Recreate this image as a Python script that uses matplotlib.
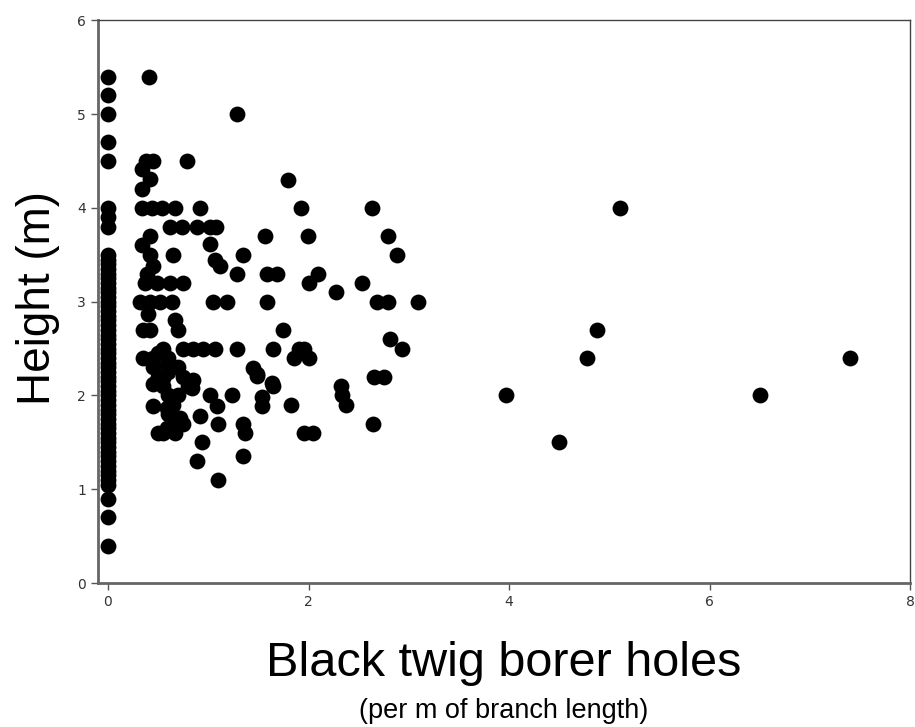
import matplotlib
matplotlib.use("Agg")
import matplotlib.pyplot as plt

# column at x = 0
zero_y = [0.4, 0.7, 0.9, 1.05, 1.1, 1.15, 1.2, 1.25, 1.3, 1.35, 1.4, 1.45, 1.5,
          1.55, 1.6, 1.65, 1.7, 1.75, 1.8, 1.85, 1.9, 1.95, 2.0, 2.05, 2.1, 2.15,
          2.2, 2.25, 2.3, 2.35, 2.4, 2.45, 2.5, 2.55, 2.6, 2.65, 2.7, 2.75, 2.8,
          2.85, 2.9, 2.95, 3.0, 3.05, 3.1, 3.15, 3.2, 3.25, 3.3, 3.35, 3.4, 3.45,
          3.5, 3.8, 3.9, 4.0, 4.5, 4.7, 5.0, 5.2, 5.4]

# the rest of the trees
holes = [0.41, 1.29, 0.38, 0.45, 0.34, 0.42, 0.34, 0.79,
         0.34, 0.44, 0.54, 0.67, 0.92, 0.62, 0.74, 0.89, 1.02, 1.08,
         1.80, 1.57, 0.42, 0.34, 0.65, 1.02, 1.07, 1.12, 1.35, 1.29, 1.59, 1.69,
         0.42, 0.45, 0.39, 0.37, 0.49, 0.62, 0.75,
         0.32, 0.42, 0.52, 0.64, 1.05, 1.19, 1.59, 0.40, 0.35, 0.42, 0.67, 0.70,
         1.75, 0.55, 0.75, 0.85, 0.95, 1.07, 1.29, 1.65, 0.35, 0.45, 0.59,
         1.45, 1.49, 1.64,
         0.45, 0.55, 0.85, 0.84, 0.45, 0.59, 0.72, 0.59, 0.55, 0.67, 1.02, 1.09,
         1.24, 0.92, 1.10, 1.35, 1.37, 0.94, 0.89, 1.35, 1.10, 1.49, 1.65, 1.54,
         1.54,
         0.45, 0.50, 0.55, 0.60, 0.65, 0.70, 0.75, 0.70, 0.60, 0.75, 0.65, 0.60,
         0.50, 0.80, 0.60, 0.50,
         1.92, 2.63, 1.99, 2.79, 2.88, 2.09, 2.00, 2.27, 2.53, 2.68, 2.79, 3.09,
         1.95, 2.00, 2.81, 2.93, 2.65, 2.75, 2.32, 2.33, 2.37, 2.64, 1.95, 2.04,
         1.85, 1.90, 1.82,
         3.97, 4.50, 4.78, 4.88, 5.10, 6.50, 7.40]
height = [5.4, 5.0, 4.5, 4.5, 4.42, 4.31, 4.2, 4.5,
          4.0, 4.0, 4.0, 4.0, 4.0, 3.8, 3.8, 3.8, 3.8, 3.8,
          4.3, 3.7, 3.7, 3.6, 3.5, 3.62, 3.44, 3.38, 3.5, 3.3, 3.3, 3.3,
          3.5, 3.38, 3.3, 3.2, 3.2, 3.2, 3.2,
          3.0, 3.0, 3.0, 3.0, 3.0, 3.0, 3.0, 2.87, 2.7, 2.7, 2.8, 2.7,
          2.7, 2.5, 2.5, 2.5, 2.5, 2.5, 2.5, 2.5, 2.4, 2.4, 2.34,
          2.29, 2.21, 2.13,
          2.12, 2.19, 2.16, 2.08, 1.89, 1.87, 1.76, 1.65, 1.6, 1.6, 2.0, 1.89,
          2.0, 1.78, 1.7, 1.7, 1.6, 1.5, 1.3, 1.35, 1.1, 2.23, 2.1, 1.98,
          1.89,
          2.3, 2.2, 2.1, 2.0, 1.9, 2.0, 2.2, 2.3, 2.4, 1.7, 1.7, 1.8,
          1.6, 2.1, 2.25, 2.45,
          4.0, 4.0, 3.7, 3.7, 3.5, 3.3, 3.2, 3.1, 3.2, 3.0, 3.0, 3.0,
          2.5, 2.4, 2.6, 2.5, 2.2, 2.2, 2.1, 2.0, 1.9, 1.7, 1.6, 1.6,
          2.4, 2.5, 1.9,
          2.0, 1.5, 2.4, 2.7, 4.0, 2.0, 2.4]

fig = plt.figure(figsize=(9.15, 7.27), dpi=100)
ax = fig.add_axes([0.107, 0.198, 0.888, 0.774])

ax.scatter([0] * len(zero_y), zero_y, s=130, c="black", linewidths=0, zorder=3)
ax.scatter(holes, height, s=130, c="black", linewidths=0, zorder=3)

ax.set_xlim(-0.1, 8)
ax.set_ylim(0, 6)
ax.set_xticks([0, 2, 4, 6, 8])
ax.set_yticks([0, 1, 2, 3, 4, 5, 6])

for side in ["left", "bottom"]:
    ax.spines[side].set_color("#666666")
    ax.spines[side].set_linewidth(2)
for side in ["top", "right"]:
    ax.spines[side].set_color("#444444")
    ax.spines[side].set_linewidth(1)
ax.tick_params(direction="out", length=5, width=1, color="#555555",
               labelsize=10, labelcolor="#333333")

fig.text(0.042, 0.59, "Height (m)", fontsize=33, family="Liberation Sans",
         rotation=90, ha="center", va="center")
fig.text(0.55, 0.087, "Black twig borer holes", fontsize=35,
         family="Liberation Sans", ha="center", va="center")
fig.text(0.55, 0.022, "(per m of branch length)", fontsize=19.5,
         family="Liberation Sans", ha="center", va="center")

fig.savefig("out.png", dpi=100)
